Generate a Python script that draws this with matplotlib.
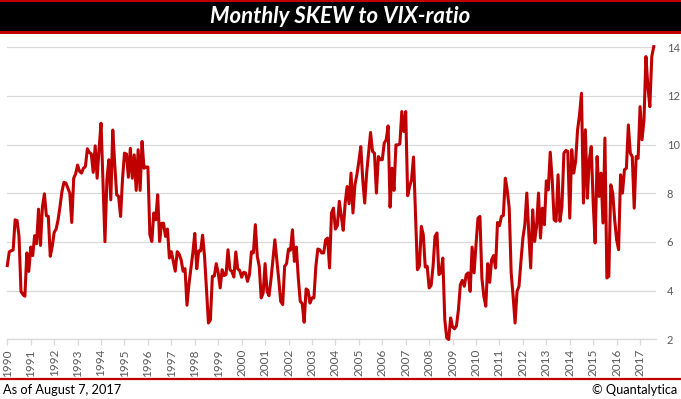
import numpy as np
import matplotlib
matplotlib.use("Agg")
import matplotlib.pyplot as plt
from matplotlib.patches import Rectangle
from matplotlib.lines import Line2D

# Monthly SKEW / VIX ratio, Jan 1990 .. Aug 2017
ratio_1990s = [
    5.03, 5.59, 5.64, 5.67, 6.91, 6.88, 6.23, 3.97, 3.84, 3.77, 5.55, 4.79,
    5.79, 5.44, 6.26, 5.93, 7.35, 5.86, 7.46, 7.98, 7.08, 7.05, 5.41, 5.82,
    6.39, 6.53, 6.91, 7.46, 8.08, 8.45, 8.42, 8.21, 8.01, 6.80, 8.62, 8.80,
    9.16, 8.90, 8.83, 9.03, 9.10, 9.83, 9.68, 9.62, 8.86, 9.95, 8.62, 9.85,
    10.88, 8.40, 6.01, 8.56, 9.38, 7.73, 10.60, 9.20, 7.94, 7.87, 7.05, 8.60,
    9.65, 9.61, 8.66, 9.85, 8.62, 9.58, 8.12, 9.79, 8.12, 10.13, 9.03, 9.08,
    9.08, 6.30, 6.02, 7.19, 6.91, 7.94, 6.02, 6.77, 6.77, 6.23, 6.53, 5.34,
    5.60, 5.20, 4.80, 5.60, 5.50, 5.27, 4.80, 4.90, 3.40, 4.25, 4.90, 5.55,
    6.35, 4.90, 5.63, 5.63, 6.28, 5.40, 4.00, 2.67, 2.80, 4.59, 4.60, 5.11,
    4.73, 4.11, 4.86, 4.62, 4.66, 5.68, 4.86, 4.79, 4.56, 5.59, 4.89, 4.83,
]
ratio_2000s = [
    4.55, 4.75, 4.73, 4.38, 4.66, 5.60, 5.55, 6.71, 5.41, 5.00, 3.70, 3.90,
    5.11, 3.97, 3.79, 4.45, 5.27, 6.09, 5.27, 4.45, 3.56, 3.43, 5.00, 5.11,
    5.71, 5.66, 6.50, 5.20, 5.79, 4.52, 3.56, 3.47, 2.70, 4.07, 4.01, 3.49,
    3.70, 3.70, 5.00, 5.71, 5.68, 5.55, 5.55, 6.09, 6.16, 4.93, 7.19, 7.39,
    6.53, 6.67, 7.67, 7.05, 6.48, 7.60, 8.28, 7.57, 8.83, 7.19, 8.35, 8.76,
    9.31, 9.92, 8.56, 7.60, 8.83, 9.65, 10.50, 9.72, 9.65, 8.01, 9.51, 9.38,
    9.38, 10.06, 10.20, 10.77, 7.43, 9.03, 8.12, 9.99, 9.99, 10.03, 11.36, 10.54,
    11.36, 7.90, 8.28, 8.56, 9.49, 7.20, 4.86, 5.00, 6.64, 6.30, 4.97, 5.00,
    4.11, 4.21, 5.00, 6.23, 6.37, 4.66, 4.73, 5.34, 2.81, 2.06, 1.99, 2.88,
    2.51, 2.43, 2.56, 3.22, 4.25, 4.42, 4.18, 4.66, 4.73, 3.97, 5.79, 4.73,
]
ratio_2010s = [
    5.89, 6.98, 7.05, 4.52, 3.77, 3.36, 5.11, 4.34, 5.27, 5.44, 4.93, 6.80,
    6.67, 7.05, 7.09, 8.62, 8.12, 7.39, 4.73, 3.77, 2.67, 3.97, 4.18, 5.20,
    6.16, 6.71, 8.01, 6.37, 4.93, 7.32, 6.02, 6.64, 8.01, 6.16, 7.39, 6.71,
    8.51, 8.14, 9.69, 8.56, 6.91, 6.85, 8.76, 6.85, 7.46, 9.65, 9.76, 9.72,
    6.98, 9.79, 8.83, 9.31, 10.61, 11.22, 12.11, 7.60, 10.61, 7.80, 9.38, 9.92,
    7.60, 5.96, 9.51, 7.87, 8.83, 6.78, 10.27, 4.52, 4.59, 8.35, 8.01, 6.91,
    6.09, 5.68, 8.76, 8.01, 8.97, 9.03, 10.81, 9.65, 9.51, 7.39, 9.51, 9.44,
    11.56, 10.20, 11.00, 13.62, 12.39, 11.56, 13.62, 14.03,
]
year_labels = [str(y) for y in range(1990, 2018)]
y_ticks = [2, 4, 6, 8, 10, 12, 14]

title_text = "Monthly SKEW to VIX-ratio"
footer_left = "As of August 7, 2017"
footer_right = "\u00a9 Quantalytica"

values = np.array(ratio_1990s + ratio_2000s + ratio_2010s)
months = np.arange(len(values))

W, H = 681, 399
fig = plt.figure(figsize=(W / 100, H / 100), dpi=100)
fig.patch.set_facecolor("white")

RED = "#C00000"
GRID = "#D9D9D9"
LABEL = "#595959"

def fy(px):
    return 1 - px / H

# title band
fig.patches.append(Rectangle((0, fy(34)), 1, 34 / H, transform=fig.transFigure,
                             facecolor=RED, edgecolor="none"))
fig.patches.append(Rectangle((0, fy(31)), 1, (31 - 1.7) / H, transform=fig.transFigure,
                             facecolor="black", edgecolor="none"))
fig.text(340 / W, fy(16.5), title_text, color="white", fontsize=16,
         fontweight="bold", fontstyle="italic", family="Lato",
         ha="center", va="center")

# plot area
left, right, top, bottom = 7.3, 655.5, 47.3, 339.3
ax = fig.add_axes([left / W, fy(bottom), (right - left) / W, (bottom - top) / H])
ax.plot(months, values, color=RED, lw=2.2, solid_joinstyle="round", clip_on=False, zorder=3)
ax.set_xlim(0, 331.9)
ax.set_ylim(2, 14)
ax.set_yticks(y_ticks)
ax.set_yticklabels([str(t) for t in y_ticks])
ax.yaxis.tick_right()
ax.set_xticks(np.arange(len(year_labels)) * 12)
ax.set_xticklabels(year_labels, rotation=90)
ax.grid(axis="y", color=GRID, lw=0.9)
ax.set_axisbelow(True)
for s in ["top", "left", "right"]:
    ax.spines[s].set_visible(False)
ax.spines["bottom"].set_color(GRID)
ax.spines["bottom"].set_linewidth(0.9)
ax.tick_params(axis="y", length=0, pad=8, labelsize=8, labelcolor=LABEL)
ax.tick_params(axis="x", length=4, width=0.9, color=GRID, pad=3, labelsize=8.5,
               labelcolor=LABEL)
for lab in ax.get_xticklabels() + ax.get_yticklabels():
    lab.set_family("Lato")

# footer
fig.add_artist(Line2D([0, 1], [fy(379), fy(379)], transform=fig.transFigure,
                      color=RED, lw=1.6))
fig.text(3 / W, fy(390), footer_left, color="black", fontsize=9.2, family="Lato",
         ha="left", va="center")
fig.text(677 / W, fy(390), footer_right, color="black", fontsize=9.2, family="Lato",
         ha="right", va="center")

fig.savefig("out.png", dpi=100)
